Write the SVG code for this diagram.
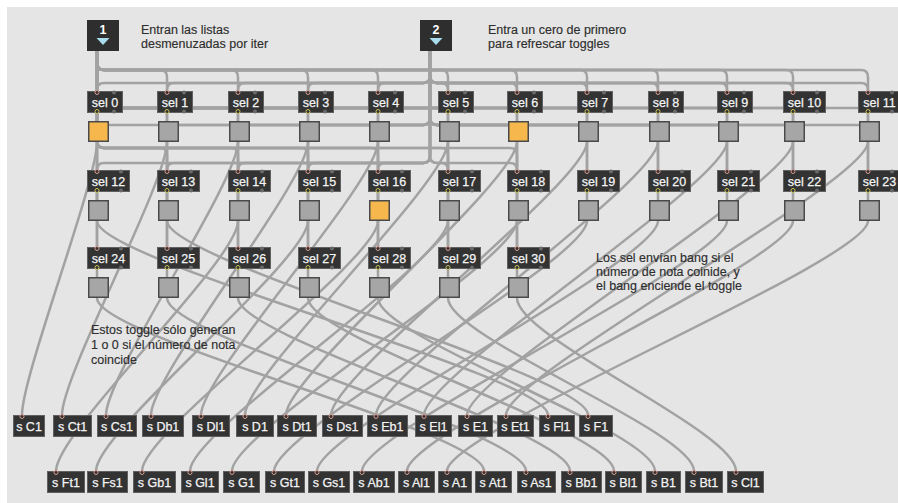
<svg xmlns="http://www.w3.org/2000/svg" width="898" height="503" viewBox="0 0 898 503">
<style>
.c{fill:none;stroke:#a2a2a2;stroke-width:2.5;stroke-linecap:round}
.box{fill:#333333;stroke:#606060;stroke-width:1}
.bt{font-family:"Liberation Sans",Arial,sans-serif;font-size:12.5px;fill:#f4f4f4;stroke:#f4f4f4;stroke-width:0.25;text-anchor:middle}
.cm{font-family:"Liberation Sans",Arial,sans-serif;font-size:12.5px;fill:#2e2e2e;stroke:#2e2e2e;stroke-width:0.15}
.tg{fill:#a6a6a6;stroke:#4a4a4a;stroke-width:1.5}
.on{fill:#f6b84c}
.pi{fill:#333333;stroke:#d9998e;stroke-width:1}
.po{fill:#333333;stroke:#c9c45a;stroke-width:1}
.pu{fill:#6a6a6a}
.inl{fill:#2e2e2e}
.num{font-family:"Liberation Sans",Arial,sans-serif;font-size:12.5px;font-weight:bold;fill:#ffffff;text-anchor:middle}
.tri{fill:#a9dcec}
</style>
<defs>
<g id="selS"><rect class="box" x="0.5" y="0.5" width="35" height="21"/><circle class="pi" cx="10" cy="1.5" r="2"/><circle class="pu" cx="27" cy="1.5" r="2"/><circle class="po" cx="10" cy="20.5" r="2"/><circle class="pu" cx="27" cy="20.5" r="2"/></g>
<g id="selL"><rect class="box" x="0.5" y="0.5" width="42" height="21"/><circle class="pi" cx="10" cy="1.5" r="2"/><circle class="pu" cx="34" cy="1.5" r="2"/><circle class="po" cx="10" cy="20.5" r="2"/><circle class="pu" cx="34" cy="20.5" r="2"/></g>
<rect id="tog" class="tg" x="0.75" y="0.75" width="19.5" height="19.5"/>
<rect id="togOn" class="tg on" x="0.75" y="0.75" width="19.5" height="19.5"/>
</defs>
<rect x="0" y="0" width="898" height="503" fill="#ffffff"/>
<rect x="7" y="7" width="891" height="496" fill="#e5e5e5"/>

<g id="connectors">
<path class="c" d="M97,51V91"/>
<path class="c" d="M97,51V63Q97,70 104,70H160Q167,70 167,77V91"/>
<path class="c" d="M97,51V63Q97,70 104,70H231Q238,70 238,77V91"/>
<path class="c" d="M97,51V63Q97,70 104,70H301Q308,70 308,77V91"/>
<path class="c" d="M97,51V63Q97,70 104,70H371Q378,70 378,77V91"/>
<path class="c" d="M97,51V63Q97,70 104,70H441Q448,70 448,77V91"/>
<path class="c" d="M97,51V63Q97,70 104,70H510Q517,70 517,77V91"/>
<path class="c" d="M97,51V63Q97,70 104,70H580Q587,70 587,77V91"/>
<path class="c" d="M97,51V63Q97,70 104,70H651Q658,70 658,77V91"/>
<path class="c" d="M97,51V63Q97,70 104,70H720Q727,70 727,77V91"/>
<path class="c" d="M97,51V63Q97,70 104,70H786Q793,70 793,77V91"/>
<path class="c" d="M97,51V63Q97,70 104,70H861Q868,70 868,77V91"/>
<path class="c" d="M430,51V76Q430,83 423,83H104Q97,83 97,90V91"/>
<path class="c" d="M430,51V76Q430,83 423,83H174Q167,83 167,90V91"/>
<path class="c" d="M430,51V76Q430,83 423,83H245Q238,83 238,90V91"/>
<path class="c" d="M430,51V76Q430,83 423,83H315Q308,83 308,90V91"/>
<path class="c" d="M430,51V76Q430,83 423,83H385Q378,83 378,90V91"/>
<path class="c" d="M430,51V76Q430,83 437,83H441Q448,83 448,90V91"/>
<path class="c" d="M430,51V76Q430,83 437,83H510Q517,83 517,90V91"/>
<path class="c" d="M430,51V76Q430,83 437,83H580Q587,83 587,90V91"/>
<path class="c" d="M430,51V76Q430,83 437,83H651Q658,83 658,90V91"/>
<path class="c" d="M430,51V76Q430,83 437,83H720Q727,83 727,90V91"/>
<path class="c" d="M430,51V76Q430,83 437,83H786Q793,83 793,90V91"/>
<path class="c" d="M430,51V76Q430,83 437,83H861Q868,83 868,90V91"/>
<path class="c" d="M97,51V170"/>
<path class="c" d="M97,51V101Q97,108 104,108H160Q167,108 167,115V170"/>
<path class="c" d="M97,51V101Q97,108 104,108H231Q238,108 238,115V170"/>
<path class="c" d="M97,51V101Q97,108 104,108H301Q308,108 308,115V170"/>
<path class="c" d="M97,51V101Q97,108 104,108H371Q378,108 378,115V170"/>
<path class="c" d="M97,51V101Q97,108 104,108H441Q448,108 448,115V170"/>
<path class="c" d="M97,51V101Q97,108 104,108H510Q517,108 517,115V170"/>
<path class="c" d="M97,51V101Q97,108 104,108H580Q587,108 587,115V170"/>
<path class="c" d="M97,51V101Q97,108 104,108H651Q658,108 658,115V170"/>
<path class="c" d="M97,51V101Q97,108 104,108H720Q727,108 727,115V170"/>
<path class="c" d="M97,51V101Q97,108 104,108H786Q793,108 793,115V170"/>
<path class="c" d="M97,51V101Q97,108 104,108H861Q868,108 868,115V170"/>
<path class="c" d="M430,51V118Q430,125 423,125H104Q97,125 97,132V170"/>
<path class="c" d="M430,51V118Q430,125 423,125H174Q167,125 167,132V170"/>
<path class="c" d="M430,51V118Q430,125 423,125H245Q238,125 238,132V170"/>
<path class="c" d="M430,51V118Q430,125 423,125H315Q308,125 308,132V170"/>
<path class="c" d="M430,51V118Q430,125 423,125H385Q378,125 378,132V170"/>
<path class="c" d="M430,51V118Q430,125 437,125H441Q448,125 448,132V170"/>
<path class="c" d="M430,51V118Q430,125 437,125H510Q517,125 517,132V170"/>
<path class="c" d="M430,51V118Q430,125 437,125H580Q587,125 587,132V170"/>
<path class="c" d="M430,51V118Q430,125 437,125H651Q658,125 658,132V170"/>
<path class="c" d="M430,51V118Q430,125 437,125H720Q727,125 727,132V170"/>
<path class="c" d="M430,51V118Q430,125 437,125H786Q793,125 793,132V170"/>
<path class="c" d="M430,51V118Q430,125 437,125H861Q868,125 868,132V170"/>
<path class="c" d="M97,51V247"/>
<path class="c" d="M97,51V141Q97,148 104,148H160Q167,148 167,155V247"/>
<path class="c" d="M97,51V141Q97,148 104,148H231Q238,148 238,155V247"/>
<path class="c" d="M97,51V141Q97,148 104,148H301Q308,148 308,155V247"/>
<path class="c" d="M97,51V141Q97,148 104,148H371Q378,148 378,155V247"/>
<path class="c" d="M97,51V141Q97,148 104,148H441Q448,148 448,155V247"/>
<path class="c" d="M97,51V141Q97,148 104,148H510Q517,148 517,155V247"/>
<path class="c" d="M430,51V156Q430,163 423,163H104Q97,163 97,170V247"/>
<path class="c" d="M430,51V156Q430,163 423,163H174Q167,163 167,170V247"/>
<path class="c" d="M430,51V156Q430,163 423,163H245Q238,163 238,170V247"/>
<path class="c" d="M430,51V156Q430,163 423,163H315Q308,163 308,170V247"/>
<path class="c" d="M430,51V156Q430,163 423,163H385Q378,163 378,170V247"/>
<path class="c" d="M430,51V156Q430,163 437,163H441Q448,163 448,170V247"/>
<path class="c" d="M430,51V156Q430,163 437,163H510Q517,163 517,170V247"/>
<path class="c" d="M97,113V121M167,113V121M238,113V121M308,113V121M378,113V121M448,113V121M517,113V121M587,113V121M658,113V121M727,113V121M793,113V121M868,113V121"/>
<path class="c" d="M97,192V200M167,192V200M238,192V200M308,192V200M378,192V200M448,192V200M517,192V200M587,192V200M658,192V200M727,192V200M793,192V200M868,192V200"/>
<path class="c" d="M97,269V277M167,269V277M238,269V277M308,269V277M378,269V277M448,269V277M517,269V277"/>
<path class="c" d="M97,142C97,182 22,375 22,415"/>
<path class="c" d="M167,142C167,182 62,375 62,415"/>
<path class="c" d="M238,142C238,182 106,375 106,415"/>
<path class="c" d="M308,142C308,182 151,375 151,415"/>
<path class="c" d="M378,142C378,182 201,375 201,415"/>
<path class="c" d="M448,142C448,182 245,375 245,415"/>
<path class="c" d="M517,142C517,182 286,375 286,415"/>
<path class="c" d="M587,142C587,182 331,375 331,415"/>
<path class="c" d="M658,142C658,182 376,375 376,415"/>
<path class="c" d="M727,142C727,182 424,375 424,415"/>
<path class="c" d="M793,142C793,182 467,375 467,415"/>
<path class="c" d="M868,142C868,182 506,375 506,415"/>
<path class="c" d="M97,221C97,261 548,375 548,415"/>
<path class="c" d="M167,221C167,261 588,375 588,415"/>
<path class="c" d="M238,221C238,261 56,431 56,471"/>
<path class="c" d="M308,221C308,261 96,431 96,471"/>
<path class="c" d="M378,221C378,261 142,431 142,471"/>
<path class="c" d="M448,221C448,261 190,431 190,471"/>
<path class="c" d="M517,221C517,261 232,431 232,471"/>
<path class="c" d="M587,221C587,261 274,431 274,471"/>
<path class="c" d="M658,221C658,261 317,431 317,471"/>
<path class="c" d="M727,221C727,261 362,431 362,471"/>
<path class="c" d="M793,221C793,261 407,431 407,471"/>
<path class="c" d="M868,221C868,261 447,431 447,471"/>
<path class="c" d="M97,298C97,338 484,431 484,471"/>
<path class="c" d="M167,298C167,338 526,431 526,471"/>
<path class="c" d="M238,298C238,338 570,431 570,471"/>
<path class="c" d="M308,298C308,338 614,431 614,471"/>
<path class="c" d="M378,298C378,338 655,431 655,471"/>
<path class="c" d="M448,298C448,338 694,431 694,471"/>
<path class="c" d="M517,298C517,338 736,431 736,471"/>
</g>

<g id="inlet1"><rect class="inl" x="87" y="20" width="32" height="31"/><text class="num" x="103" y="34">1</text><polygon class="tri" points="96.5,38 109.5,38 103,45"/></g>
<g id="inlet2"><rect class="inl" x="420" y="20" width="32" height="31"/><text class="num" x="436" y="34">2</text><polygon class="tri" points="429.5,38 442.5,38 436,45"/></g>

<g id="comment1"><text class="cm" x="141" y="34">Entran las listas</text><text class="cm" x="141" y="48">desmenuzadas por iter</text></g>
<g id="comment2"><text class="cm" x="488" y="34">Entra un cero de primero</text><text class="cm" x="488" y="48">para refrescar toggles</text></g>
<g id="comment3"><text class="cm" x="596" y="262">Los sel envían bang si el</text><text class="cm" x="596" y="276">número de nota coinide, y</text><text class="cm" x="596" y="290">el bang enciende el toggle</text></g>
<g id="comment4"><text class="cm" x="91" y="334">Estos toggle sólo generan</text><text class="cm" x="91" y="349">1 o 0 si el número de nota</text><text class="cm" x="91" y="364">coincide</text></g>

<g id="sel0"><use href="#selS" x="87" y="91"/><text class="bt" x="105" y="106.5">sel 0</text></g>
<g id="sel1"><use href="#selS" x="157" y="91"/><text class="bt" x="175" y="106.5">sel 1</text></g>
<g id="sel2"><use href="#selS" x="228" y="91"/><text class="bt" x="246" y="106.5">sel 2</text></g>
<g id="sel3"><use href="#selS" x="298" y="91"/><text class="bt" x="316" y="106.5">sel 3</text></g>
<g id="sel4"><use href="#selS" x="368" y="91"/><text class="bt" x="386" y="106.5">sel 4</text></g>
<g id="sel5"><use href="#selS" x="438" y="91"/><text class="bt" x="456" y="106.5">sel 5</text></g>
<g id="sel6"><use href="#selS" x="507" y="91"/><text class="bt" x="525" y="106.5">sel 6</text></g>
<g id="sel7"><use href="#selS" x="577" y="91"/><text class="bt" x="595" y="106.5">sel 7</text></g>
<g id="sel8"><use href="#selS" x="648" y="91"/><text class="bt" x="666" y="106.5">sel 8</text></g>
<g id="sel9"><use href="#selS" x="717" y="91"/><text class="bt" x="735" y="106.5">sel 9</text></g>
<g id="sel10"><use href="#selL" x="783" y="91"/><text class="bt" x="804.5" y="106.5">sel 10</text></g>
<g id="sel11"><use href="#selL" x="858" y="91"/><text class="bt" x="879.5" y="106.5">sel 11</text></g>
<g id="tog0"><use href="#togOn" x="88" y="121"/></g>
<g id="tog1"><use href="#tog" x="158" y="121"/></g>
<g id="tog2"><use href="#tog" x="229" y="121"/></g>
<g id="tog3"><use href="#tog" x="299" y="121"/></g>
<g id="tog4"><use href="#tog" x="369" y="121"/></g>
<g id="tog5"><use href="#tog" x="439" y="121"/></g>
<g id="tog6"><use href="#togOn" x="508" y="121"/></g>
<g id="tog7"><use href="#tog" x="578" y="121"/></g>
<g id="tog8"><use href="#tog" x="649" y="121"/></g>
<g id="tog9"><use href="#tog" x="718" y="121"/></g>
<g id="tog10"><use href="#tog" x="784" y="121"/></g>
<g id="tog11"><use href="#tog" x="859" y="121"/></g>
<g id="sel12"><use href="#selL" x="87" y="170"/><text class="bt" x="108.5" y="185.5">sel 12</text></g>
<g id="sel13"><use href="#selL" x="157" y="170"/><text class="bt" x="178.5" y="185.5">sel 13</text></g>
<g id="sel14"><use href="#selL" x="228" y="170"/><text class="bt" x="249.5" y="185.5">sel 14</text></g>
<g id="sel15"><use href="#selL" x="298" y="170"/><text class="bt" x="319.5" y="185.5">sel 15</text></g>
<g id="sel16"><use href="#selL" x="368" y="170"/><text class="bt" x="389.5" y="185.5">sel 16</text></g>
<g id="sel17"><use href="#selL" x="438" y="170"/><text class="bt" x="459.5" y="185.5">sel 17</text></g>
<g id="sel18"><use href="#selL" x="507" y="170"/><text class="bt" x="528.5" y="185.5">sel 18</text></g>
<g id="sel19"><use href="#selL" x="577" y="170"/><text class="bt" x="598.5" y="185.5">sel 19</text></g>
<g id="sel20"><use href="#selL" x="648" y="170"/><text class="bt" x="669.5" y="185.5">sel 20</text></g>
<g id="sel21"><use href="#selL" x="717" y="170"/><text class="bt" x="738.5" y="185.5">sel 21</text></g>
<g id="sel22"><use href="#selL" x="783" y="170"/><text class="bt" x="804.5" y="185.5">sel 22</text></g>
<g id="sel23"><use href="#selL" x="858" y="170"/><text class="bt" x="879.5" y="185.5">sel 23</text></g>
<g id="tog12"><use href="#tog" x="88" y="200"/></g>
<g id="tog13"><use href="#tog" x="158" y="200"/></g>
<g id="tog14"><use href="#tog" x="229" y="200"/></g>
<g id="tog15"><use href="#tog" x="299" y="200"/></g>
<g id="tog16"><use href="#togOn" x="369" y="200"/></g>
<g id="tog17"><use href="#tog" x="439" y="200"/></g>
<g id="tog18"><use href="#tog" x="508" y="200"/></g>
<g id="tog19"><use href="#tog" x="578" y="200"/></g>
<g id="tog20"><use href="#tog" x="649" y="200"/></g>
<g id="tog21"><use href="#tog" x="718" y="200"/></g>
<g id="tog22"><use href="#tog" x="784" y="200"/></g>
<g id="tog23"><use href="#tog" x="859" y="200"/></g>
<g id="sel24"><use href="#selL" x="87" y="247"/><text class="bt" x="108.5" y="262.5">sel 24</text></g>
<g id="sel25"><use href="#selL" x="157" y="247"/><text class="bt" x="178.5" y="262.5">sel 25</text></g>
<g id="sel26"><use href="#selL" x="228" y="247"/><text class="bt" x="249.5" y="262.5">sel 26</text></g>
<g id="sel27"><use href="#selL" x="298" y="247"/><text class="bt" x="319.5" y="262.5">sel 27</text></g>
<g id="sel28"><use href="#selL" x="368" y="247"/><text class="bt" x="389.5" y="262.5">sel 28</text></g>
<g id="sel29"><use href="#selL" x="438" y="247"/><text class="bt" x="459.5" y="262.5">sel 29</text></g>
<g id="sel30"><use href="#selL" x="507" y="247"/><text class="bt" x="528.5" y="262.5">sel 30</text></g>
<g id="tog24"><use href="#tog" x="88" y="277"/></g>
<g id="tog25"><use href="#tog" x="158" y="277"/></g>
<g id="tog26"><use href="#tog" x="229" y="277"/></g>
<g id="tog27"><use href="#tog" x="299" y="277"/></g>
<g id="tog28"><use href="#tog" x="369" y="277"/></g>
<g id="tog29"><use href="#tog" x="439" y="277"/></g>
<g id="tog30"><use href="#tog" x="508" y="277"/></g>

<g id="sC1"><rect class="box" x="13.5" y="415.5" width="31" height="21"/><circle class="pi" cx="22" cy="416.5" r="2"/><text class="bt" x="29" y="430.5">s C1</text></g>
<g id="sCt1"><rect class="box" x="53.5" y="415.5" width="38" height="21"/><circle class="pi" cx="62" cy="416.5" r="2"/><text class="bt" x="72.5" y="430.5">s Ct1</text></g>
<g id="sCs1"><rect class="box" x="97.5" y="415.5" width="39" height="21"/><circle class="pi" cx="106" cy="416.5" r="2"/><text class="bt" x="117" y="430.5">s Cs1</text></g>
<g id="sDb1"><rect class="box" x="142.5" y="415.5" width="41" height="21"/><circle class="pi" cx="151" cy="416.5" r="2"/><text class="bt" x="163" y="430.5">s Db1</text></g>
<g id="sDl1"><rect class="box" x="192.5" y="415.5" width="37" height="21"/><circle class="pi" cx="201" cy="416.5" r="2"/><text class="bt" x="211" y="430.5">s Dl1</text></g>
<g id="sD1"><rect class="box" x="236.5" y="415.5" width="37" height="21"/><circle class="pi" cx="245" cy="416.5" r="2"/><text class="bt" x="255" y="430.5">s D1</text></g>
<g id="sDt1"><rect class="box" x="277.5" y="415.5" width="39" height="21"/><circle class="pi" cx="286" cy="416.5" r="2"/><text class="bt" x="297" y="430.5">s Dt1</text></g>
<g id="sDs1"><rect class="box" x="322.5" y="415.5" width="40" height="21"/><circle class="pi" cx="331" cy="416.5" r="2"/><text class="bt" x="342.5" y="430.5">s Ds1</text></g>
<g id="sEb1"><rect class="box" x="367.5" y="415.5" width="40" height="21"/><circle class="pi" cx="376" cy="416.5" r="2"/><text class="bt" x="387.5" y="430.5">s Eb1</text></g>
<g id="sEl1"><rect class="box" x="415.5" y="415.5" width="36" height="21"/><circle class="pi" cx="424" cy="416.5" r="2"/><text class="bt" x="433.5" y="430.5">s El1</text></g>
<g id="sE1"><rect class="box" x="458.5" y="415.5" width="34" height="21"/><circle class="pi" cx="467" cy="416.5" r="2"/><text class="bt" x="475.5" y="430.5">s E1</text></g>
<g id="sEt1"><rect class="box" x="497.5" y="415.5" width="36" height="21"/><circle class="pi" cx="506" cy="416.5" r="2"/><text class="bt" x="515.5" y="430.5">s Et1</text></g>
<g id="sFl1"><rect class="box" x="539.5" y="415.5" width="35" height="21"/><circle class="pi" cx="548" cy="416.5" r="2"/><text class="bt" x="557" y="430.5">s Fl1</text></g>
<g id="sF1"><rect class="box" x="579.5" y="415.5" width="33" height="21"/><circle class="pi" cx="588" cy="416.5" r="2"/><text class="bt" x="596" y="430.5">s F1</text></g>
<g id="sFt1"><rect class="box" x="47.5" y="471.5" width="37" height="21"/><circle class="pi" cx="56" cy="472.5" r="2"/><text class="bt" x="66" y="486.5">s Ft1</text></g>
<g id="sFs1"><rect class="box" x="87.5" y="471.5" width="40" height="21"/><circle class="pi" cx="96" cy="472.5" r="2"/><text class="bt" x="107.5" y="486.5">s Fs1</text></g>
<g id="sGb1"><rect class="box" x="133.5" y="471.5" width="42" height="21"/><circle class="pi" cx="142" cy="472.5" r="2"/><text class="bt" x="154.5" y="486.5">s Gb1</text></g>
<g id="sGl1"><rect class="box" x="181.5" y="471.5" width="37" height="21"/><circle class="pi" cx="190" cy="472.5" r="2"/><text class="bt" x="200" y="486.5">s Gl1</text></g>
<g id="sG1"><rect class="box" x="223.5" y="471.5" width="36" height="21"/><circle class="pi" cx="232" cy="472.5" r="2"/><text class="bt" x="241.5" y="486.5">s G1</text></g>
<g id="sGt1"><rect class="box" x="265.5" y="471.5" width="39" height="21"/><circle class="pi" cx="274" cy="472.5" r="2"/><text class="bt" x="285" y="486.5">s Gt1</text></g>
<g id="sGs1"><rect class="box" x="308.5" y="471.5" width="41" height="21"/><circle class="pi" cx="317" cy="472.5" r="2"/><text class="bt" x="329" y="486.5">s Gs1</text></g>
<g id="sAb1"><rect class="box" x="353.5" y="471.5" width="41" height="21"/><circle class="pi" cx="362" cy="472.5" r="2"/><text class="bt" x="374" y="486.5">s Ab1</text></g>
<g id="sAl1"><rect class="box" x="398.5" y="471.5" width="36" height="21"/><circle class="pi" cx="407" cy="472.5" r="2"/><text class="bt" x="416.5" y="486.5">s Al1</text></g>
<g id="sA1"><rect class="box" x="438.5" y="471.5" width="33" height="21"/><circle class="pi" cx="447" cy="472.5" r="2"/><text class="bt" x="455" y="486.5">s A1</text></g>
<g id="sAt1"><rect class="box" x="475.5" y="471.5" width="36" height="21"/><circle class="pi" cx="484" cy="472.5" r="2"/><text class="bt" x="493.5" y="486.5">s At1</text></g>
<g id="sAs1"><rect class="box" x="517.5" y="471.5" width="38" height="21"/><circle class="pi" cx="526" cy="472.5" r="2"/><text class="bt" x="536.5" y="486.5">s As1</text></g>
<g id="sBb1"><rect class="box" x="561.5" y="471.5" width="40" height="21"/><circle class="pi" cx="570" cy="472.5" r="2"/><text class="bt" x="581.5" y="486.5">s Bb1</text></g>
<g id="sBl1"><rect class="box" x="605.5" y="471.5" width="36" height="21"/><circle class="pi" cx="614" cy="472.5" r="2"/><text class="bt" x="623.5" y="486.5">s Bl1</text></g>
<g id="sB1"><rect class="box" x="646.5" y="471.5" width="34" height="21"/><circle class="pi" cx="655" cy="472.5" r="2"/><text class="bt" x="663.5" y="486.5">s B1</text></g>
<g id="sBt1"><rect class="box" x="685.5" y="471.5" width="37" height="21"/><circle class="pi" cx="694" cy="472.5" r="2"/><text class="bt" x="704" y="486.5">s Bt1</text></g>
<g id="sCl1"><rect class="box" x="727.5" y="471.5" width="36" height="21"/><circle class="pi" cx="736" cy="472.5" r="2"/><text class="bt" x="745.5" y="486.5">s Cl1</text></g>
</svg>
